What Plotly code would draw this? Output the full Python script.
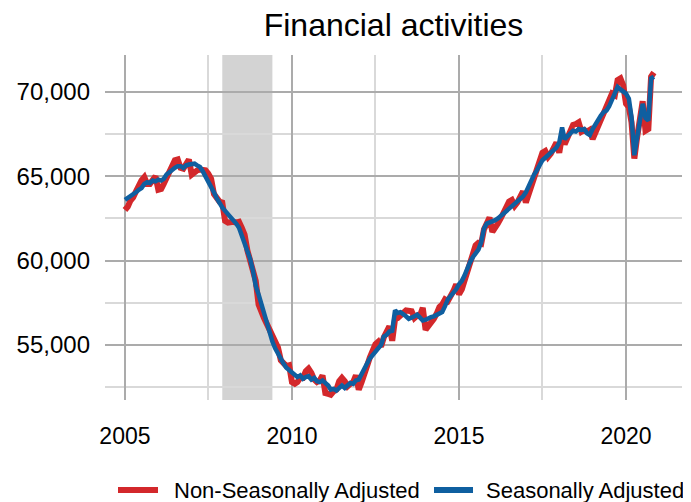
import pandas as pd
import plotly.graph_objects as go

# Seasonally adjusted, monthly Jan 2005 - Nov 2020
sa_values = [
    63600, 63700, 63850, 63900, 64050, 64200, 64300, 64550, 64650, 64600, 64750, 64700,
    64800, 64750, 64850, 65100, 65250, 65350, 65500, 65600, 65600, 65500, 65650, 65700,
    65700, 65750, 65650, 65550, 65300, 65000, 64700, 64450, 64050, 63700, 63400, 63150,
    62950, 62750, 62600, 62450, 62200, 61950, 61500, 61150, 60700, 60100, 59400, 58500,
    58000, 57400, 56900, 56400, 55900, 55200, 54800, 54450, 54200, 53900, 53650, 53500,
    53400, 53200, 53100, 53200, 53000, 53100, 53150, 52950, 53050, 52850, 52800, 52900,
    52750, 52600, 52350, 52400, 52300, 52500, 52600, 52450, 52650, 52750, 52700, 52900,
    52950, 53300, 53700, 53900, 54200, 54400, 54600, 54800, 55000, 55500, 55600, 55800,
    55850, 57050, 56900, 56950, 56850, 56700, 56550, 56600, 56700, 56800, 56650, 56450,
    56500, 56600, 56650, 56700, 56800, 56900, 56950, 57300, 57700, 57900, 58100, 58300,
    58600, 58800, 59100, 59600, 59900, 60200, 60450, 60650, 61100, 61900, 62200, 62250,
    62300, 62400, 62500, 62650, 62750, 62900, 63050, 63200, 63350, 63500, 63650, 63800,
    64050, 64450, 64800, 65100, 65350, 65700, 65950, 66100, 66250, 66400, 66550, 66700,
    67000, 67900, 67200, 67400, 67600, 67700, 67650, 67800, 67750, 67800, 67550, 67450,
    67800, 68100, 68350, 68600, 68800, 68900, 69150, 69500, 69900, 70300, 70150, 70000,
    69900, 69600, 68500, 66250, 67300, 68100, 69300, 68450, 68300, 70800, 70900,
]

# Non-seasonally adjusted, monthly Jan 2005 - Nov 2020
nsa_values = [
    63000, 63200, 63550, 63750, 64100, 64550, 64750, 64950, 64550, 64550, 64850, 65000,
    64200, 64250, 64550, 64950, 65300, 65700, 65950, 66000, 65500, 65450, 65750, 66000,
    65100, 65250, 65350, 65400, 65350, 65350, 65150, 64850, 63950, 63650, 63500, 63450,
    62350, 62250, 62300, 62300, 62250, 62300, 61950, 61550, 60600, 60050, 59500, 58800,
    57400, 56900, 56600, 56250, 55950, 55550, 55250, 54850, 54100, 53850, 53750, 53800,
    52800, 52700, 52800, 53050, 53050, 53450, 53600, 53350, 52950, 52800, 52900, 53200,
    52150, 52100, 52050, 52250, 52350, 52850, 53050, 52850, 52550, 52700, 52800, 53200,
    52350, 52800, 53400, 53750, 54250, 54750, 55050, 55200, 54900, 55450, 55700, 56100,
    55250, 56550, 56600, 56800, 56900, 57050, 57000, 57000, 56600, 56750, 56750, 57200,
    55900, 56100, 56350, 56550, 56850, 57250, 57400, 57700, 57600, 57850, 58200, 58600,
    58000, 58300, 58800, 59450, 59950, 60550, 60900, 61050, 61000, 61850, 62300, 62550,
    61700, 61900, 62200, 62500, 62800, 63250, 63500, 63600, 63250, 63450, 63750, 64100,
    63450, 63950, 64500, 64950, 65400, 66050, 66400, 66500, 66150, 66350, 66650, 67000,
    66400, 67400, 66900, 67250, 67650, 68050, 68100, 68200, 67650, 67750, 67650, 67750,
    67200, 67600, 68050, 68450, 68850, 69250, 69600, 69900, 69800, 70700, 70800, 70400,
    69300, 69100, 68200, 66050, 67300, 68400, 69450, 67700, 67800, 70900, 71150,
]

start_month = "2005-01-01"
recession = ["2007-12-01", "2009-06-01"]
y_ticks = [55000, 60000, 65000, 70000]
x_ticks = ["2005-01-01", "2010-01-01", "2015-01-01", "2020-01-01"]
x_tick_labels = ["2005", "2010", "2015", "2020"]
series_names = ["Non-Seasonally Adjusted", "Seasonally Adjusted"]
series_colors = ["#d3282b", "#0f5fa0"]

dates = pd.date_range(start_month, periods=len(sa_values), freq="MS")

FONT = "Liberation Sans, Arial, sans-serif"
MAJOR = "#ababab"
MINOR = "#d9d9d9"

fig = go.Figure()
fig.add_trace(go.Scatter(x=dates, y=nsa_values, mode="lines", name=series_names[0],
                         line=dict(color=series_colors[0], width=6), showlegend=False))
fig.add_trace(go.Scatter(x=dates, y=sa_values, mode="lines", name=series_names[1],
                         line=dict(color=series_colors[1], width=4.5), showlegend=False))

fig.add_shape(type="rect", xref="x", yref="paper", x0=recession[0], x1=recession[1],
              y0=0, y1=1, fillcolor="#d3d3d3", line_width=0, layer="below")

# page body has an 8px margin, so the figure is sized to fit the 691x502 window
W, H = 683, 494
ML, MR, MT, MB = 97, 9, 47, 102
PW, PH = W - ML - MR, H - MT - MB


def px_x(p):
    return (p - ML) / PW


def px_y(p):
    return (H - MB - p) / PH


# legend drawn by hand: sample line + label for each series
legend_y = px_y(482)
legend_items = [(110, 150, 164), (426, 465, 476)]
for (s0, s1, tx), name, color in zip(legend_items, series_names, series_colors):
    fig.add_shape(type="line", xref="paper", yref="paper", x0=px_x(s0), x1=px_x(s1),
                  y0=legend_y, y1=legend_y, line=dict(color=color, width=6))
    fig.add_annotation(text=name, xref="paper", yref="paper", x=px_x(tx), y=legend_y,
                       xanchor="left", yanchor="middle", showarrow=False,
                       font=dict(size=22, family=FONT, color="black"))

fig.update_layout(
    width=W, height=H,
    margin=dict(l=ML, r=MR, t=MT, b=MB, autoexpand=False),
    paper_bgcolor="white", plot_bgcolor="white",
    font=dict(family=FONT, color="black"),
    title=dict(text="Financial activities", x=0.5, xref="paper", xanchor="center",
               y=1 - 17 / H, yref="container", yanchor="middle",
               font=dict(size=32, family=FONT, color="black")),
    showlegend=False,
)

fig.update_xaxes(
    type="date", range=["2004-05-28", "2021-09-04"],
    tickvals=x_ticks, ticktext=x_tick_labels,
    tickfont=dict(size=23, family=FONT, color="black"),
    showgrid=True, gridcolor=MAJOR, gridwidth=1.5,
    minor=dict(dtick="M30", tick0="2005-01-01", showgrid=True, gridcolor=MINOR, gridwidth=2),
    showline=False, zeroline=False, ticks="", ticklabelstandoff=20, automargin=False,
)
fig.update_yaxes(
    range=[51740, 72190],
    tickvals=y_ticks, tickformat=",",
    tickfont=dict(size=24, family=FONT, color="black"),
    showgrid=True, gridcolor=MAJOR, gridwidth=1.5,
    minor=dict(dtick=2500, tick0=0, showgrid=True, gridcolor=MINOR, gridwidth=2),
    showline=False, zeroline=False, ticks="", ticklabelstandoff=14, automargin=False,
)

fig.write_html("out.html")
